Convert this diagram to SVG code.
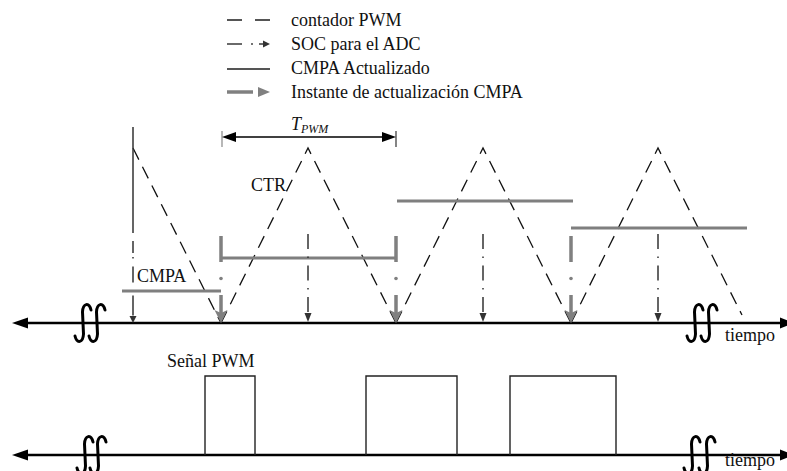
<svg xmlns="http://www.w3.org/2000/svg" width="787" height="471" viewBox="0 0 787 471">
<style>
text{font-family:"Liberation Serif","Times New Roman",serif;font-size:18px;fill:#111}
.ax{stroke:#000;stroke-width:2.5;fill:none}
.ctr{stroke:#111;stroke-width:1.3;stroke-dasharray:13 8;fill:none}
.soc{stroke:#333;stroke-width:1.5;stroke-dasharray:15 7.5 1.5 7.5;fill:none}
.cmpa{stroke:#7f7f7f;stroke-width:3;fill:none}
.upd{stroke:#808080;stroke-width:3.5;fill:none}
.sq{stroke:#000;stroke-width:3;fill:none;stroke-linecap:round}
.pwm{stroke:#222;stroke-width:1.4;fill:none}
.ah{fill:#000}
.sah{fill:#333}
.gah{fill:#808080}
</style>
<defs>
<path id="integ" d="M8,-13 C6,-21 0,-20 -0.5,-11 L0.5,11 C0,20 -6,21 -8,13"/>
<path id="uarrow" d="M0,236 L0,262 M0,295 L0,313"/>
</defs>

<g id="legend">
<line x1="227" y1="20" x2="270" y2="20" style="stroke:#555;stroke-width:1.8;stroke-dasharray:15 13"/>
<text x="291" y="26">contador PWM</text>
<line x1="227" y1="44" x2="242" y2="44" style="stroke:#444;stroke-width:1.6"/>
<line x1="251" y1="44" x2="253" y2="44" style="stroke:#444;stroke-width:1.6"/>
<line x1="259" y1="44" x2="264" y2="44" style="stroke:#444;stroke-width:1.6"/>
<polygon points="263,40.5 270,44 263,47.5" class="sah"/>
<text x="291" y="50">SOC para el ADC</text>
<line x1="227" y1="69" x2="270" y2="69" style="stroke:#555;stroke-width:2"/>
<text x="291" y="74">CMPA Actualizado</text>
<line x1="227" y1="92" x2="253" y2="92" class="upd"/>
<polygon points="258,87 270,92 258,97" class="gah"/>
<text x="291" y="98">Instante de actualización CMPA</text>
</g>

<g id="tpwm">
<line x1="222" y1="131" x2="222" y2="147" style="stroke:#888;stroke-width:1.2"/>
<line x1="396" y1="131" x2="396" y2="147" style="stroke:#333;stroke-width:1.2"/>
<line x1="232" y1="137" x2="386" y2="137" style="stroke:#000;stroke-width:1.5"/>
<polygon points="222,137 236,132 236,142" class="ah"/>
<polygon points="396,137 382,132 382,142" class="ah"/>
<text x="291" y="130" style="font-style:italic">T<tspan dy="3" style="font-size:12px">PWM</tspan></text>
</g>

<g id="axis-top">
<line x1="24" y1="323" x2="782" y2="323" class="ax"/>
<polygon points="12,323 28,317.5 28,328.5" class="ah"/>
<polygon points="794,323 780,317.5 780,328.5" class="ah"/>
<use href="#integ" x="83" y="323" class="sq"/>
<use href="#integ" x="97" y="323" class="sq"/>
<use href="#integ" x="695" y="323" class="sq"/>
<use href="#integ" x="709" y="323" class="sq"/>
<text x="725" y="341">tiempo</text>
</g>

<g id="counter">
<line x1="133" y1="148" x2="221" y2="323" class="ctr"/>
<polyline points="221,323 308,148 396,323" class="ctr"/>
<polyline points="396,323 483,148 571,323" class="ctr"/>
<polyline points="571,323 658,148 742,315" class="ctr"/>
<text x="251" y="191">CTR</text>
</g>

<g id="cmpa">
<line x1="122" y1="291" x2="221" y2="291" class="cmpa"/>
<line x1="221" y1="258" x2="396" y2="258" class="cmpa"/>
<line x1="397" y1="201" x2="573" y2="201" class="cmpa"/>
<line x1="571" y1="228" x2="747" y2="228" class="cmpa"/>
<text x="137" y="282">CMPA</text>
</g>

<g id="soc">
<line x1="133" y1="127" x2="133" y2="316" style="stroke:#333;stroke-width:1.5;stroke-dasharray:106 8 12 4 1.5 8 16 13 20"/>
<polygon points="129.5,316 136.5,316 133,323" class="sah"/>
<line x1="308" y1="234" x2="308" y2="313" class="soc"/>
<polygon points="304.5,313 311.5,313 308,322" class="sah"/>
<line x1="483" y1="234" x2="483" y2="313" class="soc"/>
<polygon points="479.5,313 486.5,313 483,322" class="sah"/>
<line x1="658" y1="234" x2="658" y2="313" class="soc"/>
<polygon points="654.5,313 661.5,313 658,322" class="sah"/>
</g>

<g id="update">
<use href="#uarrow" x="221" class="upd"/>
<circle cx="221" cy="278.5" r="1.8" class="gah"/>
<polygon points="214.5,310 221,323 227.5,310 221,313" class="gah"/>
<use href="#uarrow" x="396" class="upd"/>
<circle cx="396" cy="278.5" r="1.8" class="gah"/>
<polygon points="389.5,310 396,323 402.5,310 396,313" class="gah"/>
<use href="#uarrow" x="571" class="upd"/>
<circle cx="571" cy="278.5" r="1.8" class="gah"/>
<polygon points="564.5,310 571,323 577.5,310 571,313" class="gah"/>
</g>

<g id="axis-bottom">
<line x1="24" y1="455" x2="782" y2="455" class="ax"/>
<polygon points="12,455 28,449.5 28,460.5" class="ah"/>
<polygon points="794,455 780,449.5 780,460.5" class="ah"/>
<use href="#integ" x="85" y="455" class="sq"/>
<use href="#integ" x="98" y="455" class="sq"/>
<use href="#integ" x="692" y="455" class="sq"/>
<use href="#integ" x="707" y="455" class="sq"/>
<text x="725" y="466">tiempo</text>
</g>

<g id="pwm-signal">
<text x="167" y="367">Señal PWM</text>
<polyline points="205,455 205,376 255,376 255,455" class="pwm"/>
<polyline points="366,455 366,376 457,376 457,455" class="pwm"/>
<polyline points="510,455 510,376 616,376 616,455" class="pwm"/>
</g>
</svg>
